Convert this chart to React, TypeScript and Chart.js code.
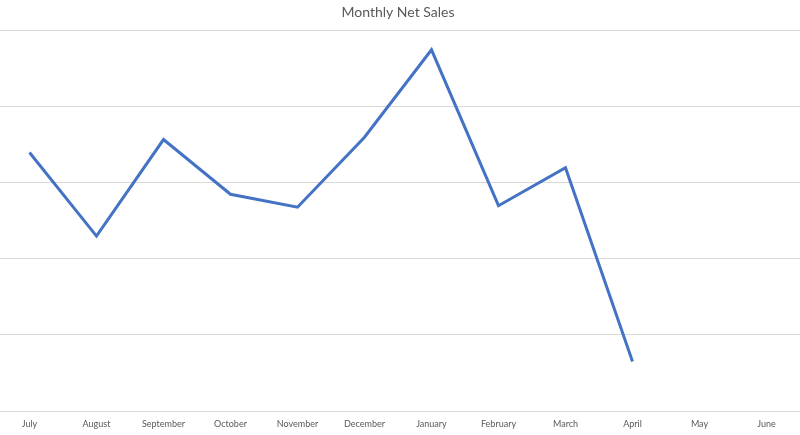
import React, { useEffect, useRef } from "react";
import { Chart, registerables } from "chart.js";

Chart.register(...registerables);

const months = [
  "July", "August", "September", "October", "November", "December",
  "January", "February", "March", "April", "May", "June",
];
// Net sales (thousands) — May and June not yet reported
const netSales: (number | null)[] = [
  170, 115, 178.5, 142.5, 134, 180, 237.5, 135, 160, 32.5, null, null,
];
const yTicks = [0, 50, 100, 150, 200, 250];

export default function App() {
  const ref = useRef<HTMLCanvasElement | null>(null);
  useEffect(() => {
    if (!ref.current) return;
    const chart = new Chart(ref.current, {
      type: "line",
      data: {
        labels: months,
        datasets: [
          {
            label: "Net Sales",
            data: netSales,
            borderColor: "#4472C4",
            backgroundColor: "#4472C4",
            borderWidth: 3,
            pointRadius: 0,
            pointHoverRadius: 0,
            tension: 0,
            spanGaps: false,
            borderCapStyle: "butt",
            borderJoinStyle: "miter",
          },
        ],
      },
      options: {
        animation: false,
        responsive: false,
        maintainAspectRatio: false,
        layout: { padding: { left: 0, right: 0, top: 0, bottom: 0 } },
        plugins: {
          legend: { display: false },
          tooltip: { enabled: false },
          title: {
            display: true,
            text: "Monthly Net Sales",
            color: "#595959",
            font: { family: "Lato, 'Open Sans', sans-serif", size: 14, weight: "normal" },
            padding: { top: 4, bottom: 10 },
          },
        },
        scales: {
          x: {
            offset: true,
            grid: { display: false, drawTicks: false },
            border: { display: false },
            afterFit: (axis: any) => {
              axis.height = 24;
            },
            ticks: {
              color: "#595959",
              font: { family: "Lato, 'Open Sans', sans-serif", size: 9 },
              padding: 8,
              autoSkip: false,
              maxRotation: 0,
            },
          },
          y: {
            min: yTicks[0],
            max: yTicks[yTicks.length - 1],
            afterBuildTicks: (axis: any) => {
              axis.ticks = yTicks.map((v) => ({ value: v }));
            },
            grid: { color: "#d9d9d9", lineWidth: 1, drawTicks: false },
            border: { display: false },
            ticks: { display: false },
          },
        },
      },
    });
    return () => chart.destroy();
  }, []);
  return (
    <div style={{ position: "fixed", left: -4, top: 0, width: 804, height: 435, background: "#fff" }}>
      <canvas ref={ref} width={804} height={435} style={{ width: 804, height: 435, display: "block" }} />
    </div>
  );
}
